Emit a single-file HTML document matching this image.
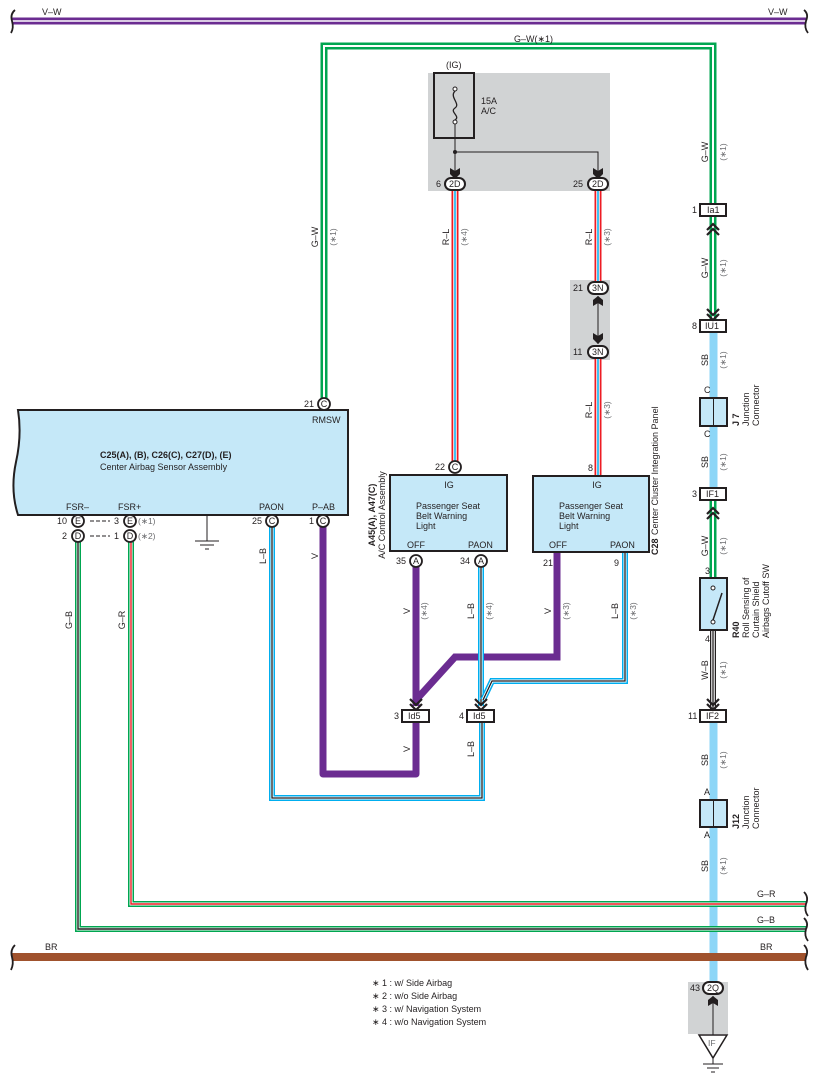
<!DOCTYPE html>
<html><head><meta charset="utf-8"><style>
html,body{margin:0;padding:0;background:#fff}
svg{display:block}
text{font-family:"Liberation Sans",sans-serif;font-size:9px;fill:#231f20}
.s{fill:#6d6e71;font-size:8.5px}
.b{font-weight:bold}
.m{font-size:10px}
</style></head><body>
<svg width="818" height="1087" viewBox="0 0 818 1087" xmlns="http://www.w3.org/2000/svg">
<defs>
<g id="chevD"><polyline points="-6,-9 0,-3 6,-9" fill="none" stroke="#231f20" stroke-width="2.2"/><polyline points="-6,-4 0,2 6,-4" fill="none" stroke="#231f20" stroke-width="2.2"/></g>
<g id="arrD"><path d="M-5,-8 L0,-5 L5,-8 L5,-2 L0,3 L-5,-2Z" fill="#231f20"/></g>
</defs>

<rect x="428" y="73" width="182" height="118" fill="#d1d3d4"/>
<rect x="570" y="280" width="40" height="80" fill="#d1d3d4"/>
<rect x="688" y="982" width="40" height="52" fill="#d1d3d4"/>

<line x1="12" y1="21" x2="806" y2="21" stroke="#6b2c91" stroke-width="7"/>
<line x1="12" y1="21" x2="806" y2="21" stroke="#fff" stroke-width="1.6"/>
<path d="M15,10 Q10,14 12,21 Q14,28 11,33" fill="none" stroke="#231f20" stroke-width="1.8"/>
<path d="M804,10 Q809,14 806,21 Q804,28 808,33" fill="none" stroke="#231f20" stroke-width="1.8"/>
<text x="42" y="15">V–W</text><text x="768" y="15">V–W</text>

<polyline points="324,398 324,46 713,46 713,205" fill="none" stroke="#00a650" stroke-width="7"/>
<polyline points="324,398 324,46 713,46 713,205" fill="none" stroke="#fff" stroke-width="2"/>
<text x="514" y="42">G–W(∗1)</text>
<line x1="713" y1="217" x2="713" y2="320" stroke="#00a650" stroke-width="7"/>
<line x1="713" y1="217" x2="713" y2="320" stroke="#fff" stroke-width="2"/>

<line x1="713.5" y1="332" x2="713.5" y2="488" stroke="#8dd6f7" stroke-width="8"/>
<line x1="713.5" y1="722" x2="713.5" y2="982" stroke="#8dd6f7" stroke-width="8"/>
<line x1="713" y1="500" x2="713" y2="578" stroke="#00a650" stroke-width="7"/>
<line x1="713" y1="500" x2="713" y2="578" stroke="#fff" stroke-width="2"/>
<line x1="713" y1="630" x2="713" y2="710" stroke="#231f20" stroke-width="6"/>
<line x1="713" y1="630" x2="713" y2="710" stroke="#fff" stroke-width="3.5"/>
<line x1="713" y1="630" x2="713" y2="710" stroke="#231f20" stroke-width="1.3"/>

<polyline points="131,542 131,904 806,904" fill="none" stroke="#00a650" stroke-width="6"/>
<polyline points="131,542 131,904 806,904" fill="none" stroke="#fff" stroke-width="3"/>
<polyline points="131,542 131,904 806,904" fill="none" stroke="#ed1c24" stroke-width="1.4"/>
<polyline points="78,542 78,929 806,929" fill="none" stroke="#00a650" stroke-width="6"/>
<polyline points="78,542 78,929 806,929" fill="none" stroke="#fff" stroke-width="3"/>
<polyline points="78,542 78,929 806,929" fill="none" stroke="#231f20" stroke-width="1.4"/>
<polyline points="272,527 272,798 482,798 482,710" fill="none" stroke="#00aeef" stroke-width="6"/>
<polyline points="272,527 272,798 482,798 482,710" fill="none" stroke="#fff" stroke-width="3"/>
<polyline points="272,527 272,798 482,798 482,710" fill="none" stroke="#231f20" stroke-width="1.3"/>
<polyline points="323,527 323,774 416,774 416,722" fill="none" stroke="#6b2c91" stroke-width="7" stroke-linejoin="round"/>
<line x1="416" y1="567" x2="416" y2="706" stroke="#6b2c91" stroke-width="7"/>
<polyline points="557,553 557,657 455,657 416,700" fill="none" stroke="#6b2c91" stroke-width="7"/>
<line x1="481" y1="567" x2="481" y2="706" stroke="#00aeef" stroke-width="6"/>
<line x1="481" y1="567" x2="481" y2="706" stroke="#fff" stroke-width="3"/>
<line x1="481" y1="567" x2="481" y2="706" stroke="#231f20" stroke-width="1.3"/>
<polyline points="625,553 625,681 492,681 483,700" fill="none" stroke="#00aeef" stroke-width="6"/>
<polyline points="625,553 625,681 492,681 483,700" fill="none" stroke="#fff" stroke-width="3"/>
<polyline points="625,553 625,681 492,681 483,700" fill="none" stroke="#231f20" stroke-width="1.3"/>

<g fill="none">
<line x1="455" y1="190" x2="455" y2="461" stroke="#ed1c24" stroke-width="7"/>
<line x1="455" y1="190" x2="455" y2="461" stroke="#fff" stroke-width="3.5"/>
<line x1="455" y1="190" x2="455" y2="461" stroke="#00aeef" stroke-width="1.5"/>
<line x1="598" y1="190" x2="598" y2="282" stroke="#ed1c24" stroke-width="7"/>
<line x1="598" y1="190" x2="598" y2="282" stroke="#fff" stroke-width="3.5"/>
<line x1="598" y1="190" x2="598" y2="282" stroke="#00aeef" stroke-width="1.5"/>
<line x1="598" y1="358" x2="598" y2="476" stroke="#ed1c24" stroke-width="7"/>
<line x1="598" y1="358" x2="598" y2="476" stroke="#fff" stroke-width="3.5"/>
<line x1="598" y1="358" x2="598" y2="476" stroke="#00aeef" stroke-width="1.5"/>
</g>

<line x1="12" y1="957" x2="806" y2="957" stroke="#a0522d" stroke-width="8"/>
<path d="M15,945 Q10,950 12,957 Q14,964 11,970" fill="none" stroke="#231f20" stroke-width="1.8"/>
<path d="M804,945 Q809,950 806,957 Q804,964 808,970" fill="none" stroke="#231f20" stroke-width="1.8"/>
<path d="M804,892 Q809,897 806,904 Q804,911 808,916" fill="none" stroke="#231f20" stroke-width="1.8"/>
<path d="M804,918 Q809,923 806,929 Q804,936 808,941" fill="none" stroke="#231f20" stroke-width="1.8"/>
<text x="45" y="950">BR</text><text x="760" y="950">BR</text>
<text x="757" y="897">G–R</text><text x="757" y="923">G–B</text>

<text x="446" y="68">(IG)</text>
<rect x="434" y="73" width="40" height="65" fill="none" stroke="#231f20" stroke-width="2"/>
<circle cx="455" cy="89" r="2" fill="#fff" stroke="#231f20"/>
<circle cx="455" cy="122" r="2" fill="#fff" stroke="#231f20"/>
<path d="M455,91 C449,97 461,104 455,108 C449,112 461,116 455,120" fill="none" stroke="#231f20" stroke-width="1.3"/>
<text x="481" y="104">15A</text><text x="481" y="114">A/C</text>
<line x1="455" y1="124" x2="455" y2="176" stroke="#231f20" stroke-width="1"/>
<circle cx="455" cy="152" r="2" fill="#231f20"/>
<polyline points="455,152 598,152 598,176" fill="none" stroke="#231f20" stroke-width="1"/>
<use href="#arrD" x="455" y="176"/><use href="#arrD" x="598" y="176"/>
<g fill="#fff" stroke="#231f20" stroke-width="2"><rect x="445" y="178" width="20" height="12" rx="6"/><rect x="588" y="178" width="20" height="12" rx="6"/>
<rect x="588" y="282" width="20" height="12" rx="6"/><rect x="588" y="346" width="20" height="12" rx="6"/>
<rect x="703" y="982" width="20" height="12" rx="6"/></g>
<text x="449" y="187">2D</text><text x="592" y="187">2D</text><text x="592" y="291">3N</text><text x="592" y="355">3N</text><text x="707" y="991">2Q</text>
<text x="436" y="187">6</text><text x="573" y="187">25</text><text x="573" y="291">21</text><text x="573" y="355">11</text><text x="690" y="991">43</text>
<line x1="598" y1="296" x2="598" y2="344" stroke="#231f20"/>
<path d="M593,306 L598,303 L603,306 L603,300 L598,296 L593,300Z" fill="#231f20"/>
<use href="#arrD" x="598" y="341"/>
<line x1="713" y1="996" x2="713" y2="1035" stroke="#231f20"/>
<path d="M708,1006 L713,1003 L718,1006 L718,1000 L713,996 L708,1000Z" fill="#231f20"/>
<path d="M699,1035 L727,1035 L713,1058Z" fill="#fff" stroke="#231f20" stroke-width="1.5"/>
<text x="708" y="1046" class="s">IF</text>
<line x1="713" y1="1058" x2="713" y2="1064" stroke="#231f20"/>
<line x1="703" y1="1064" x2="723" y2="1064" stroke="#231f20"/>
<line x1="707" y1="1068" x2="719" y2="1068" stroke="#231f20"/>
<line x1="711" y1="1072" x2="715" y2="1072" stroke="#231f20"/>

<g>
<text transform="rotate(-90 318 237)" x="318" y="237" text-anchor="middle">G–W</text>
<text transform="rotate(-90 336 237)" x="336" y="237" text-anchor="middle" class="s">(∗1)</text>
<text transform="rotate(-90 449 237)" x="449" y="237" text-anchor="middle">R–L</text>
<text transform="rotate(-90 467 237)" x="467" y="237" text-anchor="middle" class="s">(∗4)</text>
<text transform="rotate(-90 592 237)" x="592" y="237" text-anchor="middle">R–L</text>
<text transform="rotate(-90 610 237)" x="610" y="237" text-anchor="middle" class="s">(∗3)</text>
<text transform="rotate(-90 592 410)" x="592" y="410" text-anchor="middle">R–L</text>
<text transform="rotate(-90 610 410)" x="610" y="410" text-anchor="middle" class="s">(∗3)</text>
<text transform="rotate(-90 708 152)" x="708" y="152" text-anchor="middle">G–W</text>
<text transform="rotate(-90 726 152)" x="726" y="152" text-anchor="middle" class="s">(∗1)</text>
<text transform="rotate(-90 708 268)" x="708" y="268" text-anchor="middle">G–W</text>
<text transform="rotate(-90 726 268)" x="726" y="268" text-anchor="middle" class="s">(∗1)</text>
<text transform="rotate(-90 708 360)" x="708" y="360" text-anchor="middle">SB</text>
<text transform="rotate(-90 726 360)" x="726" y="360" text-anchor="middle" class="s">(∗1)</text>
<text transform="rotate(-90 708 462)" x="708" y="462" text-anchor="middle">SB</text>
<text transform="rotate(-90 726 462)" x="726" y="462" text-anchor="middle" class="s">(∗1)</text>
<text transform="rotate(-90 708 546)" x="708" y="546" text-anchor="middle">G–W</text>
<text transform="rotate(-90 726 546)" x="726" y="546" text-anchor="middle" class="s">(∗1)</text>
<text transform="rotate(-90 708 670)" x="708" y="670" text-anchor="middle">W–B</text>
<text transform="rotate(-90 726 670)" x="726" y="670" text-anchor="middle" class="s">(∗1)</text>
<text transform="rotate(-90 708 760)" x="708" y="760" text-anchor="middle">SB</text>
<text transform="rotate(-90 726 760)" x="726" y="760" text-anchor="middle" class="s">(∗1)</text>
<text transform="rotate(-90 708 866)" x="708" y="866" text-anchor="middle">SB</text>
<text transform="rotate(-90 726 866)" x="726" y="866" text-anchor="middle" class="s">(∗1)</text>
<text transform="rotate(-90 72 620)" x="72" y="620" text-anchor="middle">G–B</text>
<text transform="rotate(-90 125 620)" x="125" y="620" text-anchor="middle">G–R</text>
<text transform="rotate(-90 266 556)" x="266" y="556" text-anchor="middle">L–B</text>
<text transform="rotate(-90 318 556)" x="318" y="556" text-anchor="middle">V</text>
<text transform="rotate(-90 410 611)" x="410" y="611" text-anchor="middle">V</text>
<text transform="rotate(-90 427 611)" x="427" y="611" text-anchor="middle" class="s">(∗4)</text>
<text transform="rotate(-90 474 611)" x="474" y="611" text-anchor="middle">L–B</text>
<text transform="rotate(-90 492 611)" x="492" y="611" text-anchor="middle" class="s">(∗4)</text>
<text transform="rotate(-90 551 611)" x="551" y="611" text-anchor="middle">V</text>
<text transform="rotate(-90 569 611)" x="569" y="611" text-anchor="middle" class="s">(∗3)</text>
<text transform="rotate(-90 618 611)" x="618" y="611" text-anchor="middle">L–B</text>
<text transform="rotate(-90 636 611)" x="636" y="611" text-anchor="middle" class="s">(∗3)</text>
<text transform="rotate(-90 410 749)" x="410" y="749" text-anchor="middle">V</text>
<text transform="rotate(-90 474 749)" x="474" y="749" text-anchor="middle">L–B</text>
</g>

<path d="M18,410 L348,410 L348,515 L18,515 Q10,490 16,462 Q22,435 18,410Z" fill="#c5e8f8" stroke="#231f20" stroke-width="2"/>
<text x="100" y="458" class="b">C25(A), (B), C26(C), C27(D), (E)</text>
<text x="100" y="470">Center Airbag Sensor Assembly</text>
<text x="312" y="423">RMSW</text>
<text x="66" y="510">FSR–</text><text x="118" y="510">FSR+</text>
<text x="259" y="510">PAON</text><text x="312" y="510">P–AB</text>
<line x1="207" y1="515" x2="207" y2="541" stroke="#231f20"/>
<line x1="195" y1="541" x2="219" y2="541" stroke="#231f20"/>
<line x1="200" y1="545" x2="214" y2="545" stroke="#231f20"/>
<line x1="205" y1="549" x2="209" y2="549" stroke="#231f20"/>
<g fill="#fff" stroke="#231f20" stroke-width="1.8">
<circle cx="324" cy="404" r="6"/>
<circle cx="78" cy="521" r="6"/><circle cx="78" cy="536" r="6"/>
<circle cx="130" cy="521" r="6"/><circle cx="130" cy="536" r="6"/>
<circle cx="272" cy="521" r="6"/><circle cx="323" cy="521" r="6"/>
<circle cx="455" cy="467" r="6"/>
<circle cx="416" cy="561" r="6"/><circle cx="481" cy="561" r="6"/>
</g>
<g font-size="8">
<text x="324" y="407" text-anchor="middle">C</text>
<text x="78" y="524" text-anchor="middle">E</text><text x="78" y="539" text-anchor="middle">D</text>
<text x="130" y="524" text-anchor="middle">E</text><text x="130" y="539" text-anchor="middle">D</text>
<text x="272" y="524" text-anchor="middle">C</text><text x="323" y="524" text-anchor="middle">C</text>
<text x="455" y="470" text-anchor="middle">C</text>
<text x="416" y="564" text-anchor="middle">A</text><text x="481" y="564" text-anchor="middle">A</text>
</g>
<text x="304" y="407">21</text>
<text x="57" y="524">10</text><text x="62" y="539">2</text>
<text x="114" y="524">3</text><text x="114" y="539">1</text>
<text x="138" y="524" class="s">(∗1)</text><text x="138" y="539" class="s">(∗2)</text>
<line x1="90" y1="521" x2="110" y2="521" stroke="#231f20" stroke-dasharray="4,2"/>
<line x1="90" y1="536" x2="110" y2="536" stroke="#231f20" stroke-dasharray="4,2"/>
<text x="252" y="524">25</text><text x="309" y="524">1</text>
<text x="435" y="470">22</text>
<text x="396" y="564">35</text><text x="460" y="564">34</text>

<rect x="390" y="475" width="117" height="76" fill="#c5e8f8" stroke="#231f20" stroke-width="2"/>
<text x="449" y="488" text-anchor="middle">IG</text>
<text x="416" y="509">Passenger Seat</text><text x="416" y="519">Belt Warning</text><text x="416" y="529">Light</text>
<text x="407" y="548">OFF</text><text x="468" y="548">PAON</text>
<text transform="rotate(-90 375 515)" x="375" y="515" text-anchor="middle" class="b">A45(A), A47(C)</text>
<text transform="rotate(-90 385 515)" x="385" y="515" text-anchor="middle">A/C Control Assembly</text>

<rect x="533" y="476" width="116" height="76" fill="#c5e8f8" stroke="#231f20" stroke-width="2"/>
<text x="597" y="488" text-anchor="middle">IG</text>
<text x="559" y="509">Passenger Seat</text><text x="559" y="519">Belt Warning</text><text x="559" y="529">Light</text>
<text x="549" y="548">OFF</text><text x="610" y="548">PAON</text>
<text x="588" y="471">8</text><text x="543" y="566">21</text><text x="614" y="566">9</text>
<text transform="rotate(-90 658 555)" x="658" y="555" class="b">C28</text>
<text transform="rotate(-90 658 535)" x="658" y="535">Center Cluster Integration Panel</text>

<use href="#chevD" x="416" y="708"/><use href="#chevD" x="481" y="708"/>
<g fill="#fff" stroke="#231f20" stroke-width="2">
<rect x="402" y="710" width="27" height="12"/><rect x="467" y="710" width="27" height="12"/>
<rect x="700" y="204" width="26" height="12"/><rect x="700" y="320" width="26" height="12"/>
<rect x="700" y="488" width="26" height="12"/><rect x="700" y="710" width="26" height="12"/>
</g>
<text x="408" y="719">Id5</text><text x="473" y="719">Id5</text>
<text x="394" y="719">3</text><text x="459" y="719">4</text>
<text x="707" y="213">Ia1</text><text x="705" y="329">IU1</text><text x="706" y="497">IF1</text><text x="706" y="719">IF2</text>
<text x="692" y="213">1</text><text x="692" y="329">8</text><text x="692" y="497">3</text><text x="688" y="719">11</text>
<g transform="translate(713,226) scale(1,-1)"><use href="#chevD"/></g>
<use href="#chevD" x="713" y="318"/>
<g transform="translate(713,510) scale(1,-1)"><use href="#chevD"/></g>
<use href="#chevD" x="713" y="708"/>

<rect x="700" y="398" width="27" height="28" fill="#c5e8f8" stroke="#231f20" stroke-width="2"/>
<line x1="713.5" y1="398" x2="713.5" y2="426" stroke="#231f20" stroke-width="1"/>
<text x="704" y="393">C</text><text x="704" y="437">C</text>
<text transform="rotate(-90 739 426)" x="739" y="426" class="b">J 7</text>
<text transform="rotate(-90 749 426)" x="749" y="426">Junction</text>
<text transform="rotate(-90 759 426)" x="759" y="426">Connector</text>
<rect x="700" y="800" width="27" height="27" fill="#c5e8f8" stroke="#231f20" stroke-width="2"/>
<line x1="713.5" y1="800" x2="713.5" y2="827" stroke="#231f20" stroke-width="1"/>
<text x="704" y="795">A</text><text x="704" y="838">A</text>
<text transform="rotate(-90 739 829)" x="739" y="829" class="b">J12</text>
<text transform="rotate(-90 749 829)" x="749" y="829">Junction</text>
<text transform="rotate(-90 759 829)" x="759" y="829">Connector</text>
<rect x="700" y="578" width="27" height="52" fill="#c5e8f8" stroke="#231f20" stroke-width="2"/>
<circle cx="713" cy="588" r="2" fill="#fff" stroke="#231f20"/>
<circle cx="713" cy="622" r="2" fill="#fff" stroke="#231f20"/>
<line x1="713" y1="620" x2="722" y2="593" stroke="#231f20" stroke-width="1.5"/>
<text x="705" y="574">3</text><text x="705" y="642">4</text>
<text transform="rotate(-90 739 638)" x="739" y="638" class="b">R40</text>
<text transform="rotate(-90 749 638)" x="749" y="638">Roll Sensing of</text>
<text transform="rotate(-90 759 638)" x="759" y="638">Curtain Shield</text>
<text transform="rotate(-90 769 638)" x="769" y="638">Airbags Cutoff SW</text>

<text x="372" y="986">∗ 1 : w/ Side Airbag</text>
<text x="372" y="999">∗ 2 : w/o Side Airbag</text>
<text x="372" y="1012">∗ 3 : w/ Navigation System</text>
<text x="372" y="1025">∗ 4 : w/o Navigation System</text>
</svg>
</body></html>
